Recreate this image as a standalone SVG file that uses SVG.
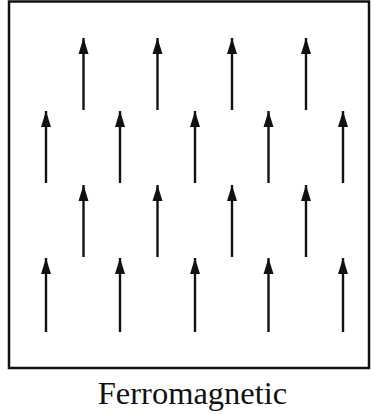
<svg xmlns="http://www.w3.org/2000/svg" width="375" height="414" viewBox="0 0 375 414">
<style>
.frame{fill:none;stroke:#111;stroke-width:2.5}
.spin{stroke:#111;stroke-width:2.4;fill:none;marker-end:url(#ah)}
.lbl{font-family:"Liberation Serif","Times New Roman",serif;font-size:32.5px;fill:#111;text-anchor:middle}
</style>
<defs>
<marker id="ah" markerUnits="userSpaceOnUse" markerWidth="18" markerHeight="12" refX="0" refY="0" orient="auto" viewBox="-17 -6 18 12" overflow="visible">
<path d="M0,0 L-16,-5 L-16,5 Z" fill="#111"/>
</marker>
</defs>
<g id="box"><rect class="frame" x="9" y="1.5" width="360" height="366.5"/></g>
<g id="spins">
<line class="spin" x1="83.5" y1="110" x2="83.5" y2="38"/>
<line class="spin" x1="157.5" y1="110" x2="157.5" y2="38"/>
<line class="spin" x1="232" y1="110" x2="232" y2="38"/>
<line class="spin" x1="306" y1="110" x2="306" y2="38"/>
<line class="spin" x1="46" y1="183" x2="46" y2="111"/>
<line class="spin" x1="120" y1="183" x2="120" y2="111"/>
<line class="spin" x1="195" y1="183" x2="195" y2="111"/>
<line class="spin" x1="268.5" y1="183" x2="268.5" y2="111"/>
<line class="spin" x1="343" y1="183" x2="343" y2="111"/>
<line class="spin" x1="83.5" y1="257" x2="83.5" y2="185"/>
<line class="spin" x1="157.5" y1="257" x2="157.5" y2="185"/>
<line class="spin" x1="232" y1="257" x2="232" y2="185"/>
<line class="spin" x1="306" y1="257" x2="306" y2="185"/>
<line class="spin" x1="46" y1="332" x2="46" y2="258"/>
<line class="spin" x1="120" y1="332" x2="120" y2="258"/>
<line class="spin" x1="195" y1="332" x2="195" y2="258"/>
<line class="spin" x1="268.5" y1="332" x2="268.5" y2="258"/>
<line class="spin" x1="343" y1="332" x2="343" y2="258"/>
</g>
<g id="label"><text class="lbl" x="192.5" y="404">Ferromagnetic</text></g>
</svg>
